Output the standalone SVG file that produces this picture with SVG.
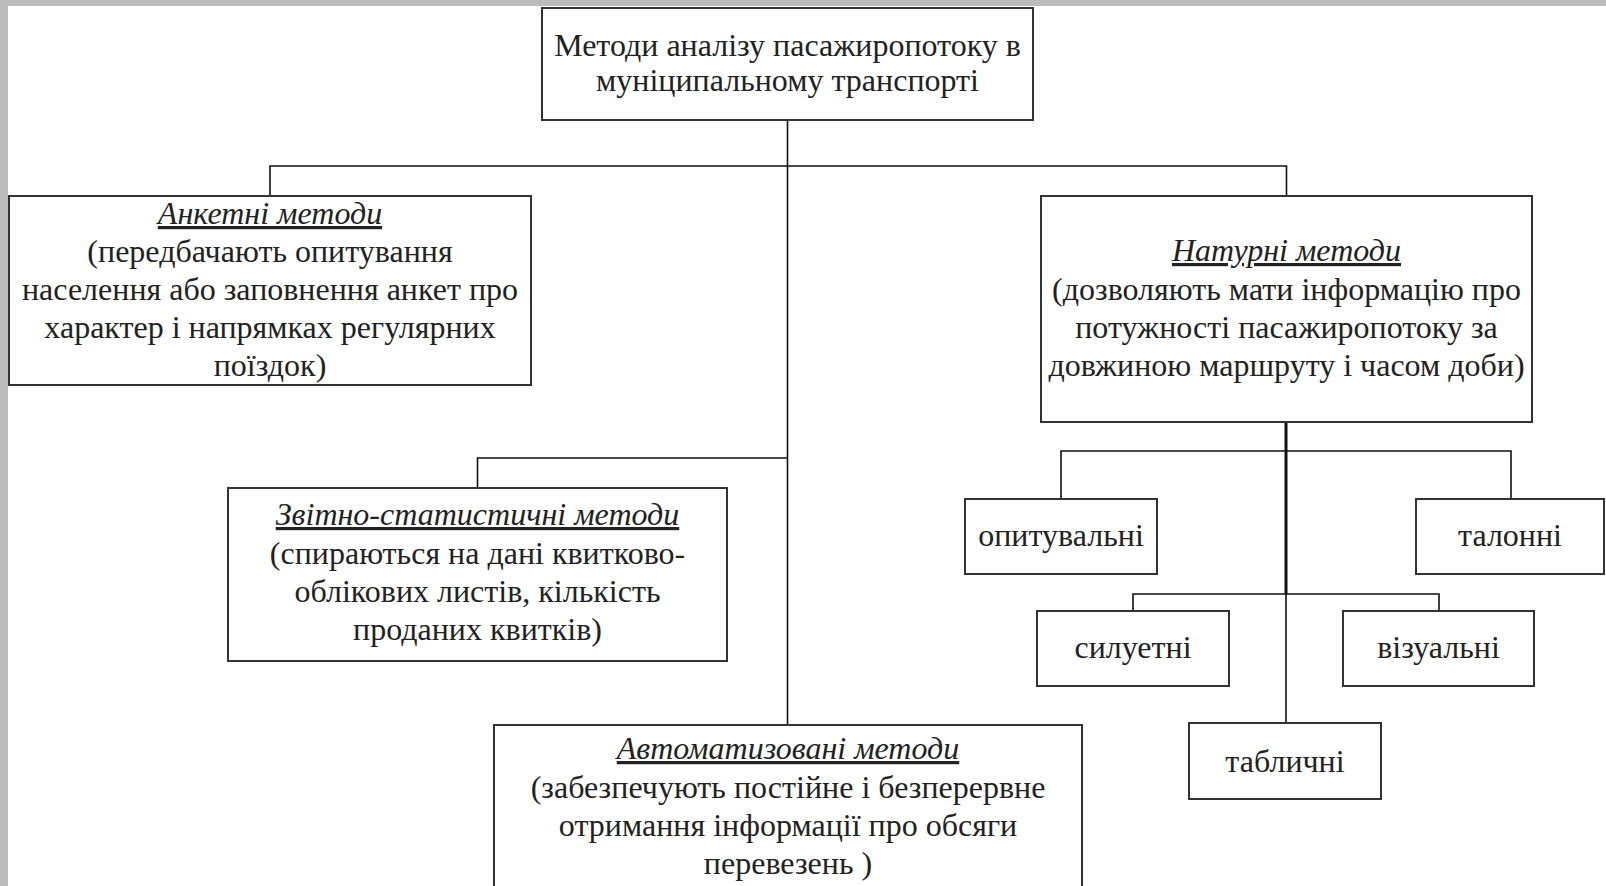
<svg xmlns="http://www.w3.org/2000/svg" width="1606" height="886" viewBox="0 0 1606 886">
<style>
.box{fill:#fff;stroke:#333;stroke-width:2}
.ln{fill:none;stroke:#111;stroke-width:1.6}
.bold{fill:none;stroke:#111;stroke-width:3}
text{font-family:"Liberation Serif","Times New Roman",serif;font-size:32px;fill:#222;text-anchor:middle}
.t{font-style:italic;text-decoration:underline}
</style>
<rect x="0" y="0" width="1606" height="886" fill="#fff"/>
<rect x="0" y="0" width="1606" height="6" fill="#bcbcbc"/>
<rect x="0" y="0" width="8" height="886" fill="#bcbcbc"/>
<g id="connectors">
<path class="ln" d="M787.5 120 V725"/>
<path class="ln" d="M270 196 V166 H1286.5 V196"/>
<path class="ln" d="M477.5 488 V458 H787.5"/>
<path class="bold" d="M1286 422 V594"/>
<path class="ln" d="M1286 594 V723"/>
<path class="ln" d="M1061 499 V451 H1511 V499"/>
<path class="ln" d="M1133 611 V594 H1439 V611"/>
</g>
<g id="root">
<rect class="box" x="542" y="8" width="491" height="112"/>
<text x="787.5" y="56">Методи аналізу пасажиропотоку в</text>
<text x="787.5" y="91">муніципальному транспорті</text>
</g>
<g id="anketni">
<rect class="box" x="9" y="196" width="522" height="189"/>
<text class="t" x="270" y="224">Анкетні методи</text>
<text x="270" y="262">(передбачають опитування</text>
<text x="270" y="300">населення або заповнення анкет про</text>
<text x="270" y="338">характер і напрямках регулярних</text>
<text x="270" y="376">поїздок)</text>
</g>
<g id="naturni">
<rect class="box" x="1041" y="196" width="491" height="226"/>
<text class="t" x="1286.5" y="261">Натурні методи</text>
<text x="1286.5" y="300">(дозволяють мати інформацію про</text>
<text x="1286.5" y="338">потужності пасажиропотоку за</text>
<text x="1286.5" y="376">довжиною маршруту і часом доби)</text>
</g>
<g id="zvitno">
<rect class="box" x="228" y="488" width="499" height="173"/>
<text class="t" x="477.5" y="525">Звітно-статистичні методи</text>
<text x="477.5" y="564">(спираються на дані квитково-</text>
<text x="477.5" y="602">облікових листів, кількість</text>
<text x="477.5" y="640">проданих квитків)</text>
</g>
<g id="avtomat">
<rect class="box" x="494" y="725" width="588" height="175"/>
<text class="t" x="788" y="759">Автоматизовані методи</text>
<text x="788" y="798">(забезпечують постійне і безперервне</text>
<text x="788" y="836">отримання інформації про обсяги</text>
<text x="788" y="874">перевезень )</text>
</g>
<g id="opytuvalni">
<rect class="box" x="965" y="499" width="192" height="75"/>
<text x="1061" y="546">опитувальні</text>
</g>
<g id="talonni">
<rect class="box" x="1416" y="499" width="188" height="75"/>
<text x="1510" y="546">талонні</text>
</g>
<g id="syluetni">
<rect class="box" x="1037" y="611" width="192" height="75"/>
<text x="1133" y="658">силуетні</text>
</g>
<g id="vizualni">
<rect class="box" x="1343" y="611" width="191" height="75"/>
<text x="1438.5" y="658">візуальні</text>
</g>
<g id="tablychni">
<rect class="box" x="1189" y="723" width="192" height="76"/>
<text x="1285" y="772">табличні</text>
</g>
</svg>
